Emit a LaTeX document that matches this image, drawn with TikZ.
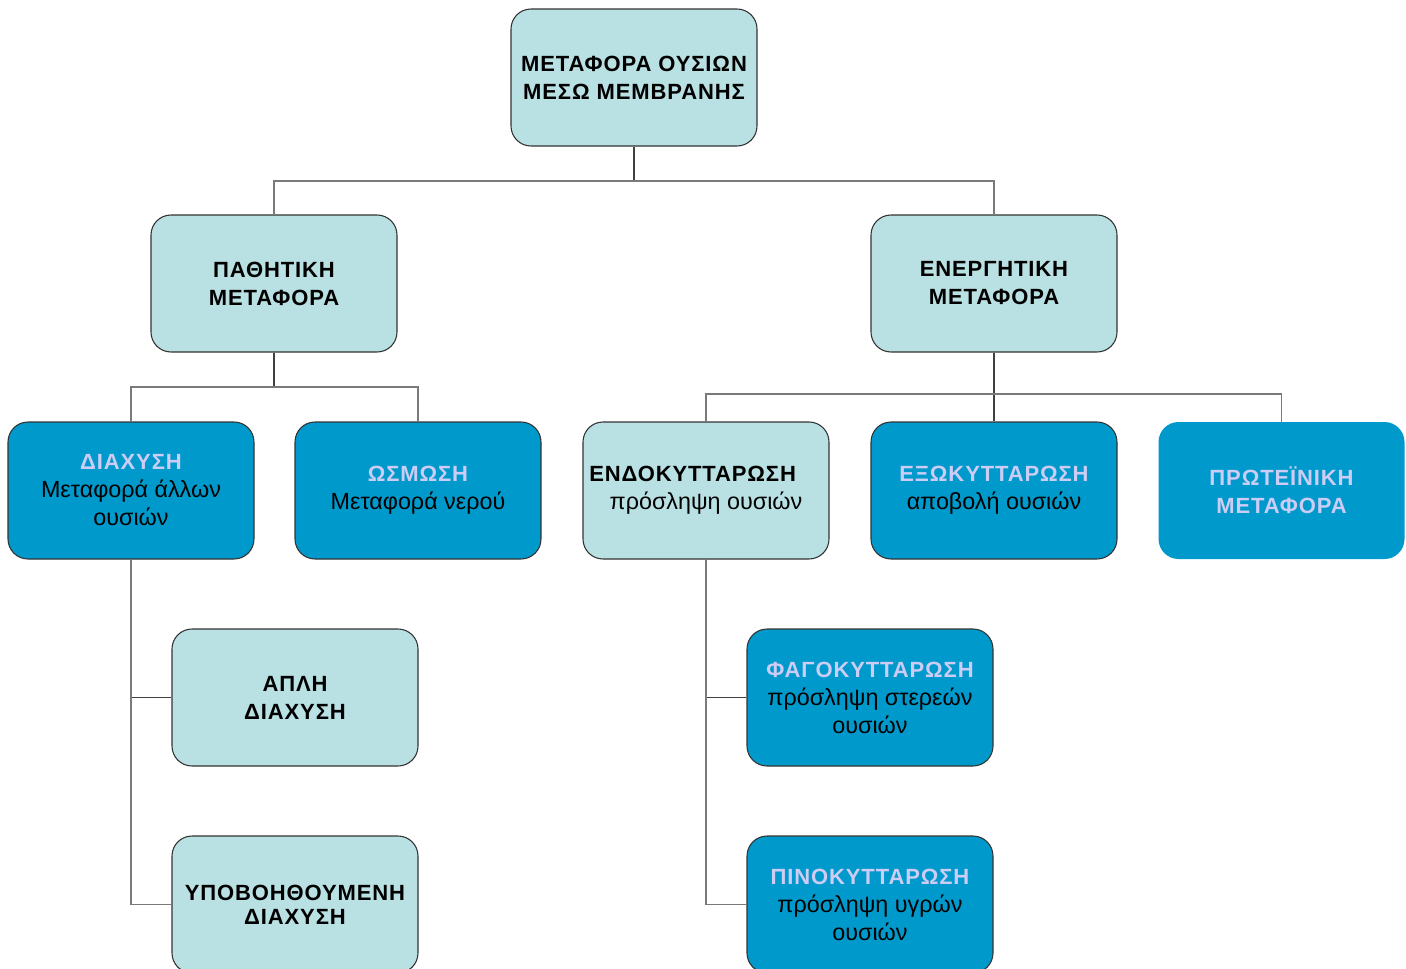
\documentclass[tikz,border=0pt]{standalone}
\usepackage{fontspec}
\setmainfont{Liberation Sans}
\newfontfamily\capsfont[LetterSpace=4]{Liberation Sans}
\definecolor{lightbox}{HTML}{B9E0E3}
\definecolor{darkbox}{HTML}{0099CC}
\definecolor{titlelav}{HTML}{CCCCF5}
\definecolor{edge}{HTML}{333333}
\definecolor{stemc}{HTML}{404040}
\definecolor{branchc}{HTML}{7A7A7A}
\tikzset{
  box/.style={rectangle, rounded corners=15pt, minimum width=184.5pt, minimum height=102.75pt,
    align=center, inner sep=2pt, font=\fontsize{17.5}{21}\selectfont},
  lightnode/.style={box, fill=lightbox, draw=edge, line width=0.8pt},
  darknode/.style={box, fill=darkbox, draw=edge, line width=0.8pt},
  darknoborder/.style={box, fill=darkbox},
  stem/.style={draw=stemc, line width=1.1pt},
  branch/.style={draw=branchc, line width=0.8pt},
}
\newcommand{\ttl}[1]{{\fontsize{16.5}{21}\capsfont\bfseries #1}}
\newcommand{\lav}[1]{{\color{titlelav}\fontsize{16.5}{21}\capsfont\bfseries #1}}
\begin{document}
\begin{tikzpicture}[x=0.75pt,y=-0.75pt]
\useasboundingbox (0,0) rectangle (1406,968);
\clip (0,0) rectangle (1406,968);
% nodes
\node[lightnode] (top) at (634,77.5) {\ttl{ΜΕΤΑΦΟΡΑ ΟΥΣΙΩΝ}\\\ttl{ΜΕΣΩ ΜΕΜΒΡΑΝΗΣ}};
\node[lightnode] (pas) at (274,283.5) {\ttl{ΠΑΘΗΤΙΚΗ}\\\ttl{ΜΕΤΑΦΟΡΑ}};
\node[lightnode] (act) at (994,283.5) {\ttl{ΕΝΕΡΓΗΤΙΚΗ}\\\ttl{ΜΕΤΑΦΟΡΑ}};
\node[darknode] (dif) at (131,490.5) {\lav{ΔΙΑΧΥΣΗ}\\Μεταφορά άλλων\\ουσιών};
\node[darknode] (osm) at (418,490.5) {\lav{ΩΣΜΩΣΗ}\\Μεταφορά νερού};
\node[lightnode] (endo) at (706,490.5) {\ttl{ΕΝΔΟΚΥΤΤΑΡΩΣΗ}\hspace*{20pt}\\πρόσληψη ουσιών};
\node[darknode] (exo) at (994,490.5) {\lav{ΕΞΩΚΥΤΤΑΡΩΣΗ}\\αποβολή ουσιών};
\node[darknoborder] (prot) at (1281.5,490.5) {\lav{ΠΡΩΤΕΪΝΙΚΗ}\\\lav{ΜΕΤΑΦΟΡΑ}};
\node[lightnode] (simple) at (295,697.5) {\ttl{ΑΠΛΗ}\\\ttl{ΔΙΑΧΥΣΗ}};
\node[lightnode] (facil) at (295,904.5) {\ttl{ΥΠΟΒΟΗΘΟΥΜΕΝΗ}\\[-3pt]\ttl{ΔΙΑΧΥΣΗ}};
\node[darknode] (phago) at (870,697.5) {\lav{ΦΑΓΟΚΥΤΤΑΡΩΣΗ}\\πρόσληψη στερεών\\ουσιών};
\node[darknode] (pino) at (870,904.5) {\lav{ΠΙΝΟΚΥΤΤΑΡΩΣΗ}\\πρόσληψη υγρών\\ουσιών};
% coordinates
\coordinate (j1) at (634,181);
\coordinate (j2) at (274,387);
\coordinate (j3) at (994,394);
% connectors
\draw[stem] (top.south) -- (j1);
\draw[branch] (pas.north) |- (j1) -| (act.north);
\draw[stem] (pas.south) -- (j2);
\draw[branch] (dif.north) |- (j2) -| (osm.north);
\draw[stem] (act.south) -- (exo.north);
\draw[branch] (endo.north) |- (j3) -| (prot.north);
\draw[stem] (dif.south) |- (simple.west);
\draw[branch] (dif.south) |- (facil.west);
\draw[stem] (endo.south) |- (phago.west);
\draw[branch] (endo.south) |- (pino.west);
\end{tikzpicture}
\end{document}
